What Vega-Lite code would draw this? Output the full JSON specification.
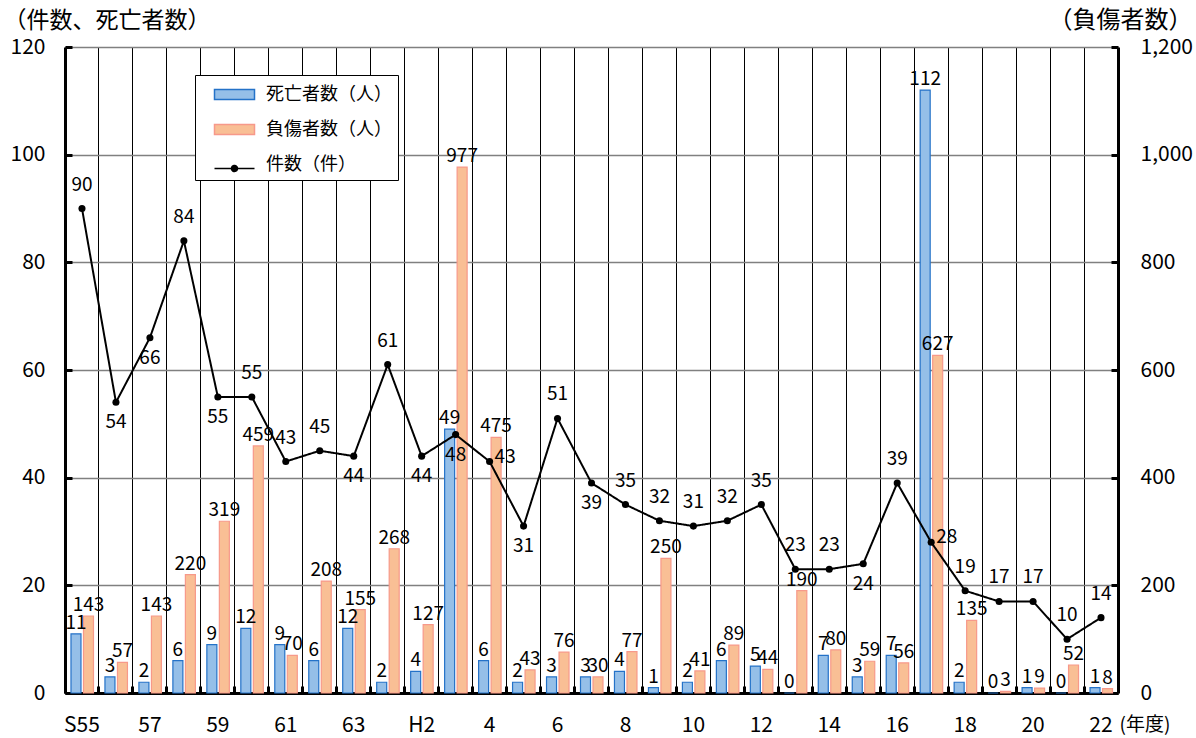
{
  "$schema": "https://vega.github.io/schema/vega-lite/v6.json",
  "width": 1053,
  "height": 646,
  "autosize": {"type": "none"},
  "padding": {"left": 65, "top": 47, "right": 78, "bottom": 45},
  "background": "white",
  "config": {
    "font": "Noto Sans CJK JP",
    "view": {"stroke": null},
    "axis": {"labelFont": "Noto Sans CJK JP", "titleFont": "Noto Sans CJK JP", "labelColor": "#000", "titleColor": "#000", "titleFontWeight": "normal"},
    "legend": {"labelFont": "Noto Sans CJK JP", "labelColor": "#000"}
  },
  "data": {
    "values": [
      {"year": "S55", "deaths": 11, "injured": 143, "count": 90},
      {"year": "S56", "deaths": 3, "injured": 57, "count": 54},
      {"year": "S57", "deaths": 2, "injured": 143, "count": 66},
      {"year": "S58", "deaths": 6, "injured": 220, "count": 84},
      {"year": "S59", "deaths": 9, "injured": 319, "count": 55},
      {"year": "S60", "deaths": 12, "injured": 459, "count": 55},
      {"year": "S61", "deaths": 9, "injured": 70, "count": 43},
      {"year": "S62", "deaths": 6, "injured": 208, "count": 45},
      {"year": "S63", "deaths": 12, "injured": 155, "count": 44},
      {"year": "H1", "deaths": 2, "injured": 268, "count": 61},
      {"year": "H2", "deaths": 4, "injured": 127, "count": 44},
      {"year": "H3", "deaths": 49, "injured": 977, "count": 48},
      {"year": "H4", "deaths": 6, "injured": 475, "count": 43},
      {"year": "H5", "deaths": 2, "injured": 43, "count": 31},
      {"year": "H6", "deaths": 3, "injured": 76, "count": 51},
      {"year": "H7", "deaths": 3, "injured": 30, "count": 39},
      {"year": "H8", "deaths": 4, "injured": 77, "count": 35},
      {"year": "H9", "deaths": 1, "injured": 250, "count": 32},
      {"year": "H10", "deaths": 2, "injured": 41, "count": 31},
      {"year": "H11", "deaths": 6, "injured": 89, "count": 32},
      {"year": "H12", "deaths": 5, "injured": 44, "count": 35},
      {"year": "H13", "deaths": 0, "injured": 190, "count": 23},
      {"year": "H14", "deaths": 7, "injured": 80, "count": 23},
      {"year": "H15", "deaths": 3, "injured": 59, "count": 24},
      {"year": "H16", "deaths": 7, "injured": 56, "count": 39},
      {"year": "H17", "deaths": 112, "injured": 627, "count": 28},
      {"year": "H18", "deaths": 2, "injured": 135, "count": 19},
      {"year": "H19", "deaths": 0, "injured": 3, "count": 17},
      {"year": "H20", "deaths": 1, "injured": 9, "count": 17},
      {"year": "H21", "deaths": 0, "injured": 52, "count": 10},
      {"year": "H22", "deaths": 1, "injured": 8, "count": 14}
    ]
  },
  "encoding": {
    "x": {
      "field": "year", "type": "ordinal", "sort": null,
      "scale": {"paddingInner": 0, "paddingOuter": 0},
      "axis": {
        "title": "(年度)", "titleX": 1054, "titleY": 31, "titleAlign": "left", "titleBaseline": "middle", "titleFontSize": 19,
        "bandPosition": 0, "grid": true, "gridColor": "#000", "gridWidth": 1, "gridOpacity": 1,
        "domainColor": "#000", "domainWidth": 3, "ticks": true, "tickSize": -7, "tickWidth": 3, "tickColor": "#000",
        "labelPadding": 39, "labelFontSize": 21, "labelAngle": 0, "labelOverlap": false, "labelBaseline": "middle",
        "labelExpr": "indexof(['S55','S57','S59','S61','S63','H2','H4','H6','H8','H10','H12','H14','H16','H18','H20','H22'], datum.value) < 0 ? '' : ((datum.value == 'S55' || datum.value == 'H2') ? datum.value : substring(datum.value, 1))"
      }
    }
  },
  "layer": [
    {
      "mark": {"type": "bar", "width": 10, "xOffset": 6.5, "strokeWidth": 1.2},
      "encoding": {
        "y": {
          "field": "injured", "type": "quantitative",
          "scale": {"domain": [0, 1200]},
          "axis": {
            "orient": "right", "title": "（負傷者数）", "titleAngle": 0, "titleAlign": "right", "titleBaseline": "middle", "titleX": 74, "titleY": -27, "titleFontSize": 24,
            "values": [0, 200, 400, 600, 800, 1000, 1200], "format": ",.0f", "grid": false,
            "domainColor": "#000", "domainWidth": 3, "tickSize": -7, "tickWidth": 3, "tickColor": "#000", "labelFontSize": 21, "labelPadding": 29
          }
        },
        "fill": {"datum": "負傷者数（人）"},
        "stroke": {"datum": "負傷者数（人）"}
      }
    },
    {
      "encoding": {
        "y": {
          "field": "deaths", "type": "quantitative",
          "scale": {"domain": [0, 120]},
          "axis": {
            "orient": "left", "title": "（件数、死亡者数）", "titleAngle": 0, "titleAlign": "left", "titleBaseline": "middle", "titleX": -62, "titleY": -27, "titleFontSize": 23,
            "values": [0, 20, 40, 60, 80, 100, 120], "grid": true, "gridColor": "#808080", "gridWidth": 1.5, "gridOpacity": 1,
            "domainColor": "#000", "domainWidth": 3, "tickSize": -7, "tickWidth": 3, "tickColor": "#000", "labelFontSize": 21, "labelPadding": 27
          }
        }
      },
      "layer": [
        {
          "mark": {"type": "bar", "width": 10, "xOffset": -6, "strokeWidth": 1.2},
          "encoding": {
            "fill": {
              "datum": "死亡者数（人）",
              "scale": {"domain": ["死亡者数（人）", "負傷者数（人）", "件数（件）"], "range": ["#95BFE8", "#F9BF95", "rgba(0,0,0,0)"]},
              "legend": {
                "orient": "none", "legendX": 130, "legendY": 28, "title": null,
                "fillColor": "white", "strokeColor": "#000", "padding": 6,
                "symbolSize": 625, "symbolOffset": 20, "labelOffset": 18, "labelFontSize": 18, "rowPadding": 12,
                "symbolType": "M-1.6,-0.4L1.6,-0.4L1.6,0.4L-1.6,0.4Z", "symbolStrokeWidth": 1.5
              }
            },
            "stroke": {
              "datum": "死亡者数（人）",
              "scale": {"domain": ["死亡者数（人）", "負傷者数（人）", "件数（件）"], "range": ["#2472C8", "#F7998A", "rgba(0,0,0,0)"]},
              "legend": {
                "orient": "none", "legendX": 130, "legendY": 28, "title": null,
                "fillColor": "white", "strokeColor": "#000", "padding": 6,
                "symbolSize": 625, "symbolOffset": 20, "labelOffset": 18, "labelFontSize": 18, "rowPadding": 12,
                "symbolType": "M-1.6,-0.4L1.6,-0.4L1.6,0.4L-1.6,0.4Z", "symbolStrokeWidth": 1.5
              }
            }
          }
        },
        {
          "mark": {"type": "text", "dx": -6, "dy": -5, "baseline": "alphabetic", "align": "center", "fontSize": 19, "color": "#000"},
          "encoding": {"text": {"field": "deaths", "type": "quantitative"}}
        },
        {
          "mark": {"type": "line", "strokeWidth": 2, "color": "#000"},
          "encoding": {
            "y": {"field": "count", "type": "quantitative", "axis": {"title": "（件数、死亡者数）"}},
            "strokeDash": {
              "datum": "件数（件）",
              "scale": {"domain": ["件数（件）"], "range": [[1, 0]]},
              "legend": {
                "orient": "none", "legendX": 130, "legendY": 102, "title": null, "padding": 6,
                "symbolSize": 625, "symbolOffset": 20, "labelOffset": 18, "labelFontSize": 18,
                "labelExpr": "''",
                "symbolType": "M-1.6,0L1.6,0M-0.24,0A0.24,0.24,0,1,1,0.24,0A0.24,0.24,0,1,1,-0.24,0M-0.14,0A0.14,0.14,0,1,1,0.14,0A0.14,0.14,0,1,1,-0.14,0M-0.05,0A0.05,0.05,0,1,1,0.05,0A0.05,0.05,0,1,1,-0.05,0",
                "symbolStrokeColor": "#000", "symbolFillColor": "#000", "symbolStrokeWidth": 1.5
              }
            }
          }
        },
        {
          "mark": {"type": "point", "filled": true, "size": 50, "color": "#000", "opacity": 1},
          "encoding": {
            "y": {"field": "count", "type": "quantitative", "axis": {"title": "（件数、死亡者数）"}}
          }
        },
        {
          "transform": [{"filter": {"not": {"field": "year", "oneOf": ["S56", "S57", "S59", "S63", "H2", "H3", "H5", "H7", "H15", "H4", "H17"]}}}],
          "mark": {"type": "text", "dy": -24, "baseline": "middle", "align": "center", "fontSize": 19, "color": "#000"},
          "encoding": {
            "y": {"field": "count", "type": "quantitative", "axis": {"title": "（件数、死亡者数）"}},
            "text": {"field": "count", "type": "quantitative"}
          }
        },
        {
          "transform": [{"filter": {"field": "year", "oneOf": ["S56", "S57", "S59", "S63", "H2", "H3", "H5", "H7", "H15"]}}],
          "mark": {"type": "text", "dy": 20, "baseline": "middle", "align": "center", "fontSize": 19, "color": "#000"},
          "encoding": {
            "y": {"field": "count", "type": "quantitative", "axis": {"title": "（件数、死亡者数）"}},
            "text": {"field": "count", "type": "quantitative"}
          }
        },
        {
          "transform": [{"filter": {"field": "year", "oneOf": ["H4", "H17"]}}],
          "mark": {"type": "text", "dx": 5, "dy": -5, "baseline": "middle", "align": "left", "fontSize": 19, "color": "#000"},
          "encoding": {
            "y": {"field": "count", "type": "quantitative", "axis": {"title": "（件数、死亡者数）"}},
            "text": {"field": "count", "type": "quantitative"}
          }
        }
      ]
    },
    {
      "mark": {"type": "text", "dx": 6.5, "dy": -5, "baseline": "alphabetic", "align": "center", "fontSize": 19, "color": "#000"},
      "encoding": {
        "y": {"field": "injured", "type": "quantitative", "scale": {"domain": [0, 1200]}, "axis": null},
        "text": {"field": "injured", "type": "quantitative"}
      }
    }
  ],
  "resolve": {"scale": {"y": "independent"}}
}
